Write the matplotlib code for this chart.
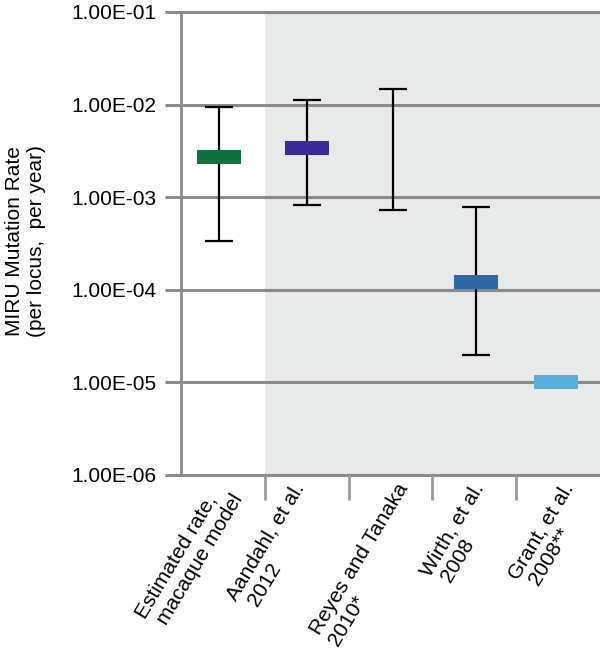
import numpy as np
import matplotlib
matplotlib.use('Agg')
import matplotlib.pyplot as plt

plt.rcParams['font.family'] = ['Liberation Sans', 'DejaVu Sans']

# ---- data ----
labels = ['Estimated rate,\n macaque model', 'Aandahl, et al.\n 2012',
          'Reyes and Tanaka\n2010*', 'Wirth, et al.\n 2008', 'Grant, et al.\n 2008**']
cat_x = [0.95, 2.0, 3.03, 4.02, 4.98]
rate = [2.75e-3, 3.4e-3, np.nan, 1.2e-4, 1.0e-5]
err_hi = [9.5e-3, 1.13e-2, 1.49e-2, 7.8e-4, np.nan]
err_lo = [3.4e-4, 8.2e-4, 7.2e-4, 2.0e-5, np.nan]
colors = ['#107040', '#3A2A98', 'none', '#2E66A6', '#5AAEDC']
yticks = [1e-6, 1e-5, 1e-4, 1e-3, 1e-2, 1e-1]
ytick_labels = ['1.00E-06', '1.00E-05', '1.00E-04', '1.00E-03', '1.00E-02', '1.00E-01']

# where the rotated category labels end (in x data units)
label_x = [1.07, 2.03, 3.27, 4.17, 5.24]

fig = plt.figure(figsize=(6.0, 6.58), dpi=100)
ax = fig.add_axes([181 / 600, 1 - 475 / 658, 1 - 181 / 600, (475 - 12) / 658])

ax.set_yscale('log')
ax.set_ylim(1e-6, 1e-1)
ax.set_xlim(0.5, 5.5)

# shaded literature region
ax.axvspan(1.5, 5.5, color='#E8E9E9', zorder=0, lw=0)

# gridlines
for y in yticks:
    ax.axhline(y, color='#8A8A8A', lw=2.2, zorder=1, clip_on=False)

# error bars
for xi, hi, lo in zip(cat_x, err_hi, err_lo):
    if np.isnan(hi):
        continue
    mid = np.sqrt(hi * lo)
    ax.errorbar([xi], [mid], yerr=[[mid - lo], [hi - mid]],
                fmt='none', ecolor='black', elinewidth=1.6, capsize=10,
                capthick=1.6, zorder=3)

# rectangle markers
rect = [(-1.55, -0.5), (1.55, -0.5), (1.55, 0.5), (-1.55, 0.5), (-1.55, -0.5)]
for xi, r, c in zip(cat_x, rate, colors):
    if np.isnan(r):
        continue
    ax.plot([xi], [r], marker=rect, markersize=31, color=c, mec=c, mew=0,
            zorder=4, ls='none')

for s in ['top', 'right', 'bottom']:
    ax.spines[s].set_visible(False)
ax.spines['left'].set_color('#8A8A8A')
ax.spines['left'].set_linewidth(2.0)

ax.set_yticks(yticks)
ax.set_yticklabels(ytick_labels)
ax.yaxis.set_minor_locator(matplotlib.ticker.NullLocator())
ax.tick_params(axis='y', which='major', length=11.5, width=2.2, color='#8A8A8A',
               labelsize=15, pad=6)

ax.set_xticks(label_x)
ax.set_xticklabels(labels, rotation=59, ha='right', va='center',
                   rotation_mode='anchor', fontsize=15, multialignment='left',
                   linespacing=1.2)
ax.tick_params(axis='x', which='major', length=0, pad=11)
ax.set_xticks([1.5, 2.5, 3.5, 4.5], minor=True)
ax.tick_params(axis='x', which='minor', length=18, width=2.0, color='#9A9A9A')

fig.text(0.043, 1 - 241 / 658, 'MIRU Mutation Rate\n(per locus,  per year)', rotation=90,
         ha='center', va='center', fontsize=15, multialignment='center')

fig.savefig('out.png', dpi=100)
